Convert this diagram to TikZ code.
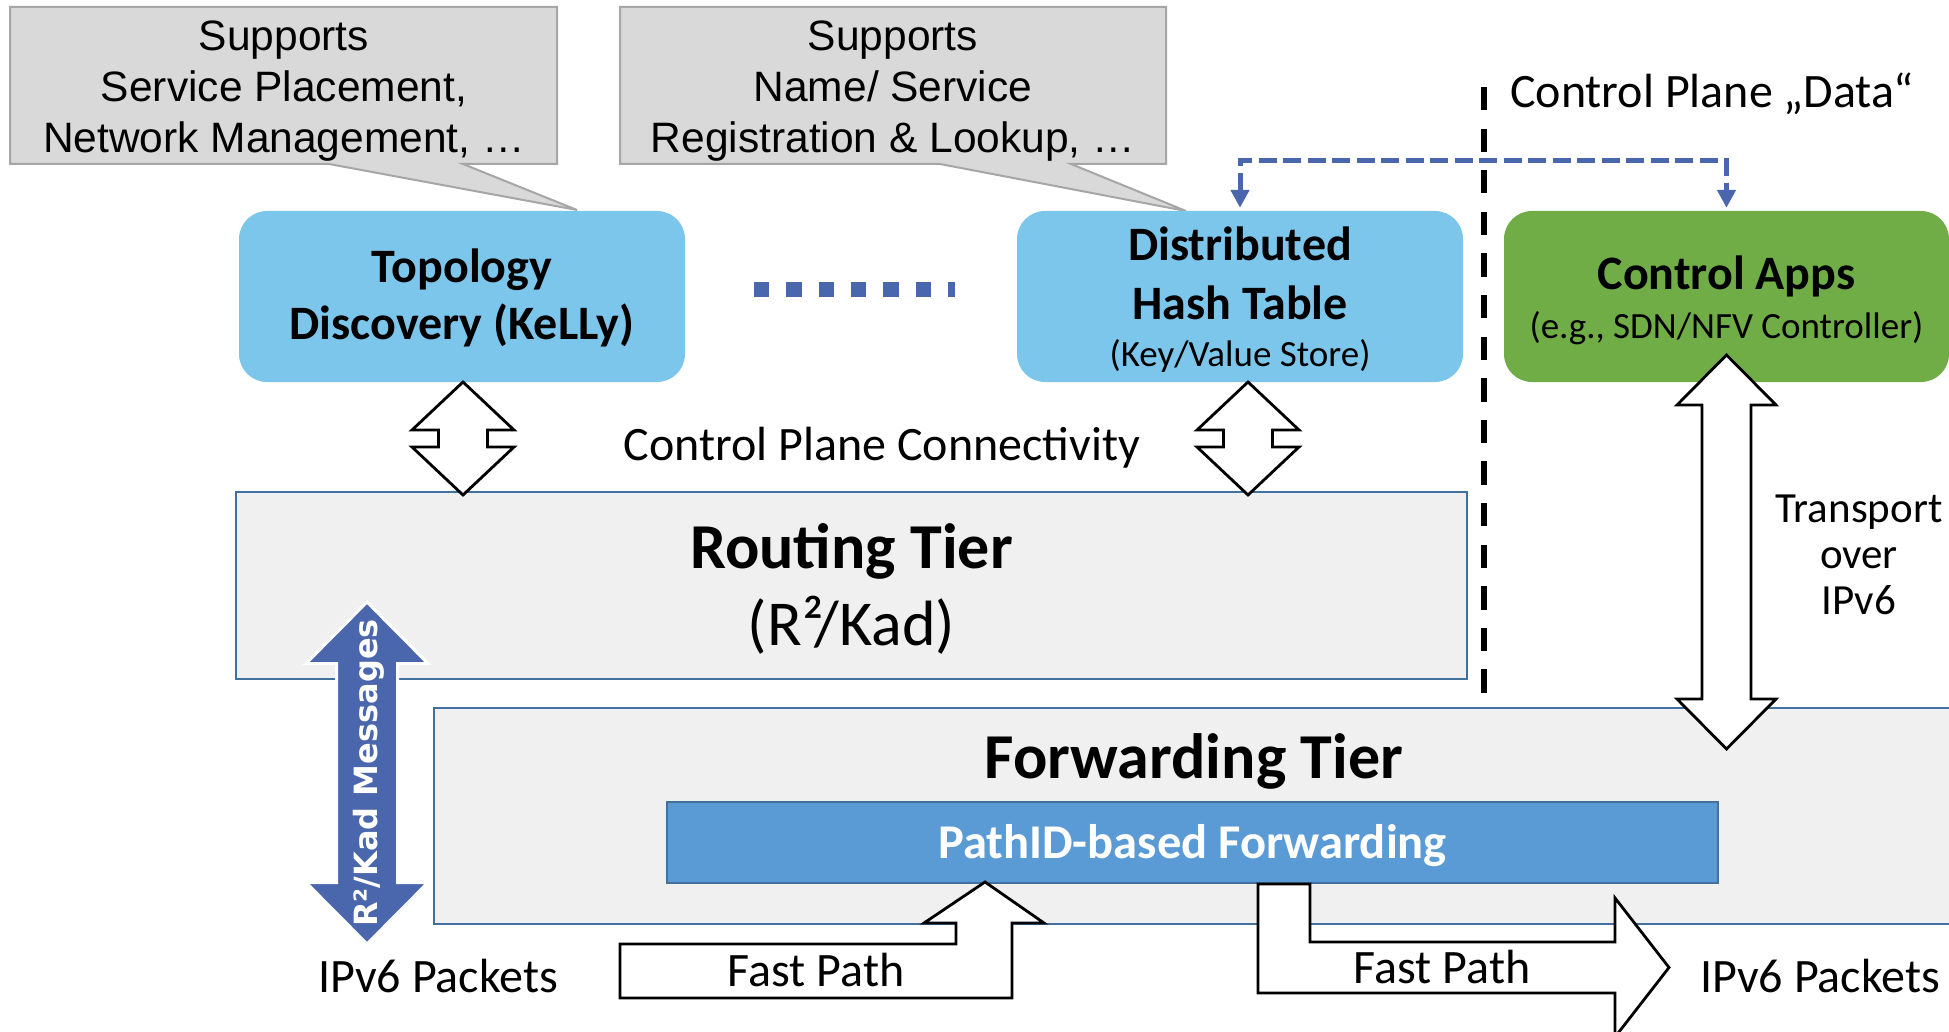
\documentclass[tikz,border=0pt]{standalone}
\usepackage{fontspec}
\setmainfont{Carlito}
\newfontfamily\arialfont{Liberation Sans}
\newfontfamily\verdfont{DejaVu Sans}
\usetikzlibrary{arrows.meta}
\definecolor{callgray}{HTML}{D9D9D9}
\definecolor{callborder}{HTML}{A6A6A6}
\definecolor{lblue}{HTML}{7CC6EC}
\definecolor{appgreen}{HTML}{70AD47}
\definecolor{tiergray}{HTML}{F0F0F0}
\definecolor{tierblue}{HTML}{41719C}
\definecolor{pidblue}{HTML}{5B9BD5}
\definecolor{darkblue}{HTML}{4A66AC}
\newcommand\blockdarrow[7]{% style, x, ytop, ybot, headhalf, shafthalf, headlen
  \draw[#1] (#2,#3) -- (#2+#5,#3+#7) -- (#2+#6,#3+#7) -- (#2+#6,#4-#7) -- (#2+#5,#4-#7) -- (#2,#4)
    -- (#2-#5,#4-#7) -- (#2-#6,#4-#7) -- (#2-#6,#3+#7) -- (#2-#5,#3+#7) -- cycle;}
% invisible struts fixing the height of a first line and the depth of a last line
\newcommand\topstrut[1]{\rule{0pt}{#1pt}}
\newcommand\botstrut[1]{\rule[-#1pt]{0pt}{0pt}}
\tikzset{
  callout/.style={fill=callgray, draw=callborder, line width=2},
  calltext/.style={font=\arialfont\fontsize{42.5}{51}\selectfont, align=center, inner sep=0},
  lbbox/.style={fill=lblue, rounded corners=28, minimum width=446, minimum height=171, inner sep=0,
    align=center, font=\bfseries\fontsize{48}{58}\selectfont},
  gbox/.style={lbbox, fill=appgreen, minimum width=445},
  tier/.style={fill=tiergray, draw=tierblue, line width=2.5, inner sep=0},
  pidbox/.style={fill=pidblue, draw=tierblue, line width=2.5, inner sep=0, text=white,
    text height=40pt, text depth=9pt, font=\bfseries\fontsize{48.5}{56}\selectfont},
  whitearrow/.style={fill=white, draw=black, line width=2.8, line join=miter},
  kadarrow/.style={fill=darkblue, draw=white, line width=3, line join=miter},
  bluedash/.style={draw=darkblue, line width=5, dash pattern=on 18pt off 6.5pt,
    {Triangle[width=18pt,length=18pt]}-{Triangle[width=18pt,length=18pt]},
    shorten <=3pt, shorten >=3pt},
  sepline/.style={draw=black, line width=6, dash pattern=on 23.3pt off 18.3pt},
  dots/.style={draw=darkblue, line width=15, dash pattern=on 15.3pt off 17pt},
  txt/.style={inner sep=0, font=\fontsize{48}{58}\selectfont},
}
\begin{document}
\begin{tikzpicture}[x=1pt,y=-1pt]
\useasboundingbox (0,0) rectangle (1949,1032);
\clip (0,0) rectangle (1949,1032);

% callouts
\draw[callout] (10,7) -- (557,7) -- (557,164) -- (463,164) -- (577,210) -- (329,164) -- (10,164) -- cycle;
\node[calltext] (c1) at (284,91.3) {Supports\\Service Placement,\\Network Management, …};
\draw[callout] (620,7) -- (1166,7) -- (1166,164) -- (1071,164) -- (1186,211) -- (940,164) -- (620,164) -- cycle;
\node[calltext] (c2) at (893,91.3) {Supports\\Name/ Service\\Registration \& Lookup, …};

% top boxes
\node[lbbox] (topo) at (462,296.5) {\topstrut{44}Topology\\Discovery (KeLLy)\botstrut{15}};
\node[lbbox] (dht) at (1240,296.5) {\topstrut{49}Distributed\\Hash Table\\[-11pt]{\mdseries\fontsize{37}{47}\selectfont (Key/Value Store)\botstrut{15}}};
\node[gbox] (apps) at (1726.5,296.5) {\topstrut{50}Control Apps\\[-9pt]{\mdseries\fontsize{37}{47}\selectfont (e.g., SDN/NFV Controller)\botstrut{15}}};
\draw[dots] (754,290) -- (955,290);

% tiers
\node[tier, minimum width=1231, minimum height=187, align=center, font=\fontsize{64}{77}\selectfont] (rt) at (851.5,585.5)
  {\topstrut{62}\textbf{Routing Tier}\\(R²/Kad)\botstrut{20}};
\node[tier, minimum width=1521, minimum height=216] (ft) at (1194.5,816) {};
\node[inner sep=0, anchor=base, font=\bfseries\fontsize{64}{71}\selectfont] (ftlabel) at (1194,778) {Forwarding Tier};
\node[pidbox, minimum width=1051, minimum height=81] (pid) at (1192.5,842.5) {PathID-based Forwarding};

% separator and control-plane data link
\draw[sepline] (1484,87) -- (1484,698);
\coordinate (jt) at (1240,160.5);
\draw[bluedash] (dht.north) |- (jt) -| (apps.north);

% block arrows
\blockdarrow{whitearrow}{463}{382}{495}{51}{24.5}{48}
\blockdarrow{whitearrow}{1248}{382}{495}{51}{24.5}{48}
\blockdarrow{whitearrow}{1726.5}{355}{749}{49.5}{24.5}{50}
\blockdarrow{kadarrow}{367}{602}{944}{61}{30.5}{61.5}
\draw[whitearrow] (620,944) -- (956,944) -- (956,923) -- (924,923) -- (985,882) -- (1044,923)
  -- (1012,923) -- (1012,998) -- (620,998) -- cycle;
\draw[whitearrow] (1258,884) -- (1310,884) -- (1310,942) -- (1615,942) -- (1615,898) -- (1669,967.5)
  -- (1615,1037) -- (1615,993) -- (1258,993) -- cycle;

% texts
\node[rotate=90, inner sep=0, text=white, font=\verdfont\bfseries\fontsize{32}{32}\selectfont] (kadtxt) at (369,773) {R²/Kad Messages};
\node[txt, anchor=base] (cpc) at (882,460) {Control Plane Connectivity};
\node[txt, anchor=base west] (cpd) at (1510,108) {Control Plane „Data“};
\node[txt, align=center, font=\fontsize{43}{46}\selectfont] (trans) at (1859,555) {Transport\\over\\IPv6};
\node[txt, anchor=base] (ipl) at (438,992) {IPv6 Packets};
\node[txt, anchor=base] (ipr) at (1820,992) {IPv6 Packets};
\node[txt, anchor=base] (fp1) at (816,986) {Fast Path};
\node[txt, anchor=base] (fp2) at (1442,983) {Fast Path};
\end{tikzpicture}
\end{document}
